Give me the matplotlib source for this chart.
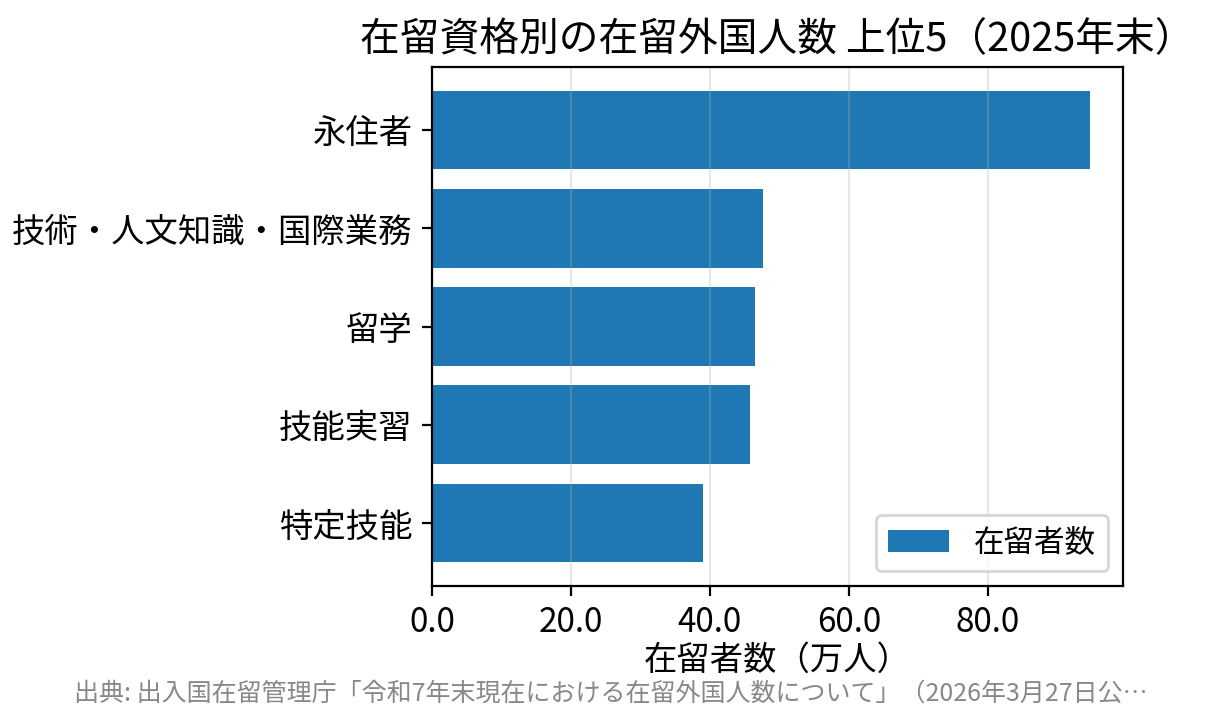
import matplotlib
matplotlib.use("Agg")
import matplotlib.pyplot as plt

plt.rcParams['font.family'] = ['Noto Sans CJK JP', 'DejaVu Sans']

# 在留資格別の在留外国人数（万人）、上位5
categories = ['永住者', '技術・人文知識・国際業務', '留学', '技能実習', '特定技能']
values = [94.7, 47.6, 46.5, 45.8, 39.0]
source = '出典: 出入国在留管理庁「令和7年末現在における在留外国人数について」（2026年3月27日公…'

fig, ax = plt.subplots(figsize=(6.11, 3.625), dpi=200)

ax.barh(categories[::-1], values[::-1], color='#1f77b4', label='在留者数')
ax.set_title('在留資格別の在留外国人数 上位5（2025年末）', fontsize=14.3)
ax.set_xlabel('在留者数（万人）', fontsize=12, labelpad=1)
ax.tick_params(axis='both', labelsize=12)
ax.xaxis.set_major_formatter(matplotlib.ticker.FormatStrFormatter('%.1f'))
ax.grid(axis='x', alpha=0.3)
ax.legend(loc='lower right', fontsize=11)

fig.text(0.5, 0.044, source, ha='center', va='center', fontsize=9, color='#888888')

plt.subplots_adjust(left=0.3535, right=0.919, top=0.9076, bottom=0.1917)
plt.savefig('out.png', dpi=200)
